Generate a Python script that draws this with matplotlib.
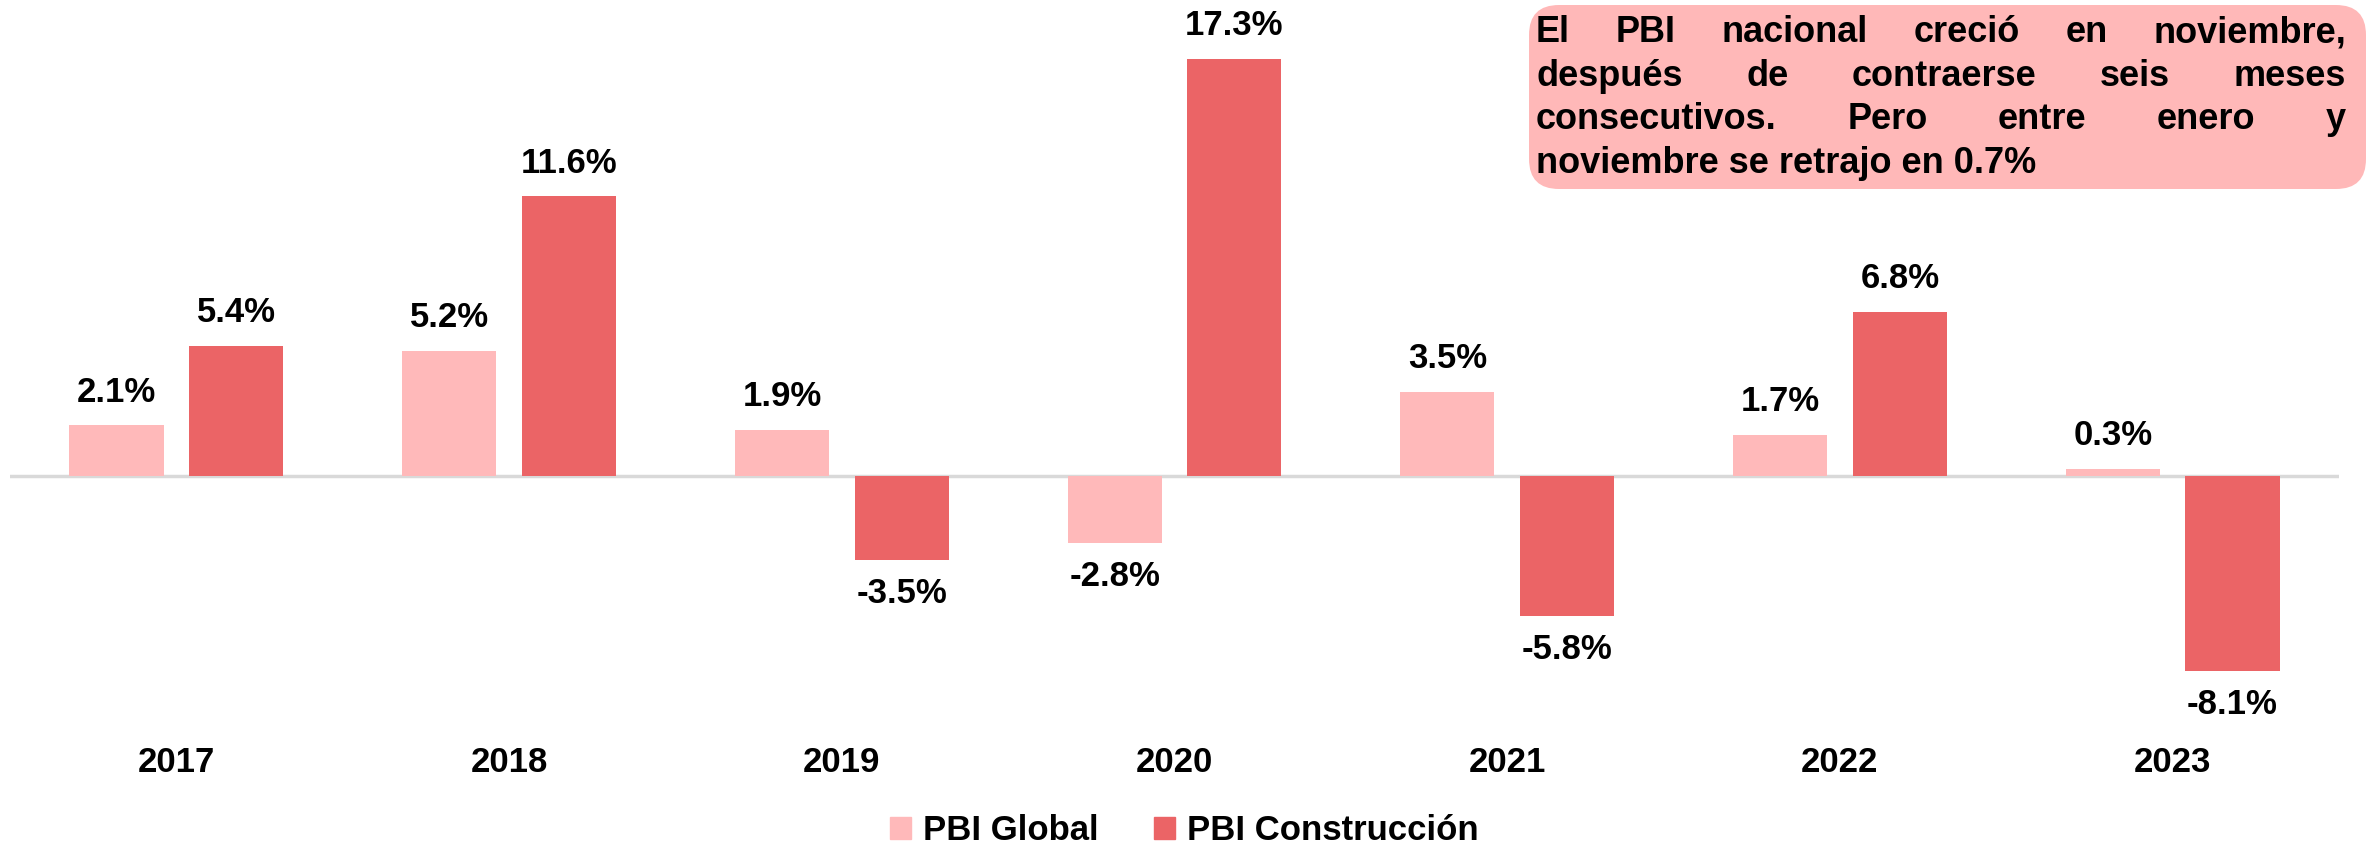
import matplotlib
matplotlib.use("Agg")
import matplotlib.pyplot as plt
from matplotlib.patches import FancyBboxPatch, Patch
from matplotlib.transforms import IdentityTransform
import numpy as np

years = ["2017", "2018", "2019", "2020", "2021", "2022", "2023"]
pbi_global = [2.1, 5.2, 1.9, -2.8, 3.5, 1.7, 0.3]
pbi_construccion = [5.4, 11.6, -3.5, 17.3, -5.8, 6.8, -8.1]
series_names = ["PBI Global", "PBI Construcción"]
note_lines = [
    "El PBI nacional creció en noviembre,",
    "después de contraerse seis meses",
    "consecutivos. Pero entre enero y",
    "noviembre se retrajo en 0.7%",
]

COL_GLOBAL = "#FFB9BA"
COL_CONS = "#EB6466"

plt.rcParams["font.family"] = ["Liberation Sans", "DejaVu Sans"]
plt.rcParams["font.weight"] = "bold"

W, H = 2369, 850
fig = plt.figure(figsize=(W / 100, H / 100), dpi=100)
ax = fig.add_axes([10 / W, 0, 2329 / W, 1])

scale = 24.1  # px per percentage point
zero_px = 476
ax.set_ylim(-(H - zero_px) / scale, zero_px / scale)
ax.set_xlim(-0.5, len(years) - 0.5)
ax.axis("off")

x = np.arange(len(years))
bw = 0.283
off = 0.18
b1 = ax.bar(x - off, pbi_global, bw, color=COL_GLOBAL, zorder=2)
b2 = ax.bar(x + off, pbi_construccion, bw, color=COL_CONS, zorder=2)
ax.axhline(0, color="#D9D9D9", lw=2.5, zorder=1)

for bars in (b1, b2):
    for rect in bars:
        v = rect.get_height()
        xc = rect.get_x() + rect.get_width() / 2
        dy = 24 if v >= 0 else -24
        ax.annotate(f"{v:.1f}%", (xc, v), xytext=(0, dy), textcoords="offset points",
                    ha="center", va="center", fontsize=25, fontweight="bold")

# year labels under groups
for i, yr in enumerate(years):
    ax.text(i, 1 - 763 / H, yr, transform=ax.get_xaxis_transform(),
            ha="center", va="center", fontsize=25, fontweight="bold")

handles = [Patch(color=COL_GLOBAL), Patch(color=COL_CONS)]
fig.legend(handles, series_names, loc="center", bbox_to_anchor=(0.5, 19 / H), ncol=2,
           frameon=False, fontsize=25, handlelength=0.6, handleheight=0.6,
           handletextpad=0.35, columnspacing=1.6, prop={"weight": "bold", "size": 25})

# note box with justified text
box = FancyBboxPatch((1529, H - 189), 837, 184, boxstyle="round,pad=0,rounding_size=30",
                     facecolor="#FFB8B8", edgecolor="none", transform=IdentityTransform())
fig.add_artist(box)

renderer = fig.canvas.get_renderer()
left, right = 1536, 2346
for li, line in enumerate(note_lines):
    y = H - (33 + li * 43.4)
    if li == len(note_lines) - 1:
        fig.text(left, y, line, transform=IdentityTransform(), ha="left", va="center",
                 fontsize=26, fontweight="bold")
        continue
    words = line.split()
    texts = [fig.text(0, y, w, transform=IdentityTransform(), ha="left", va="center",
                      fontsize=26, fontweight="bold") for w in words]
    widths = [t.get_window_extent(renderer).width for t in texts]
    gap = (right - left - sum(widths)) / (len(words) - 1)
    xpos = left
    for t, w in zip(texts, widths):
        t.set_x(xpos)
        xpos += w + gap

fig.savefig("out.png", dpi=100)
